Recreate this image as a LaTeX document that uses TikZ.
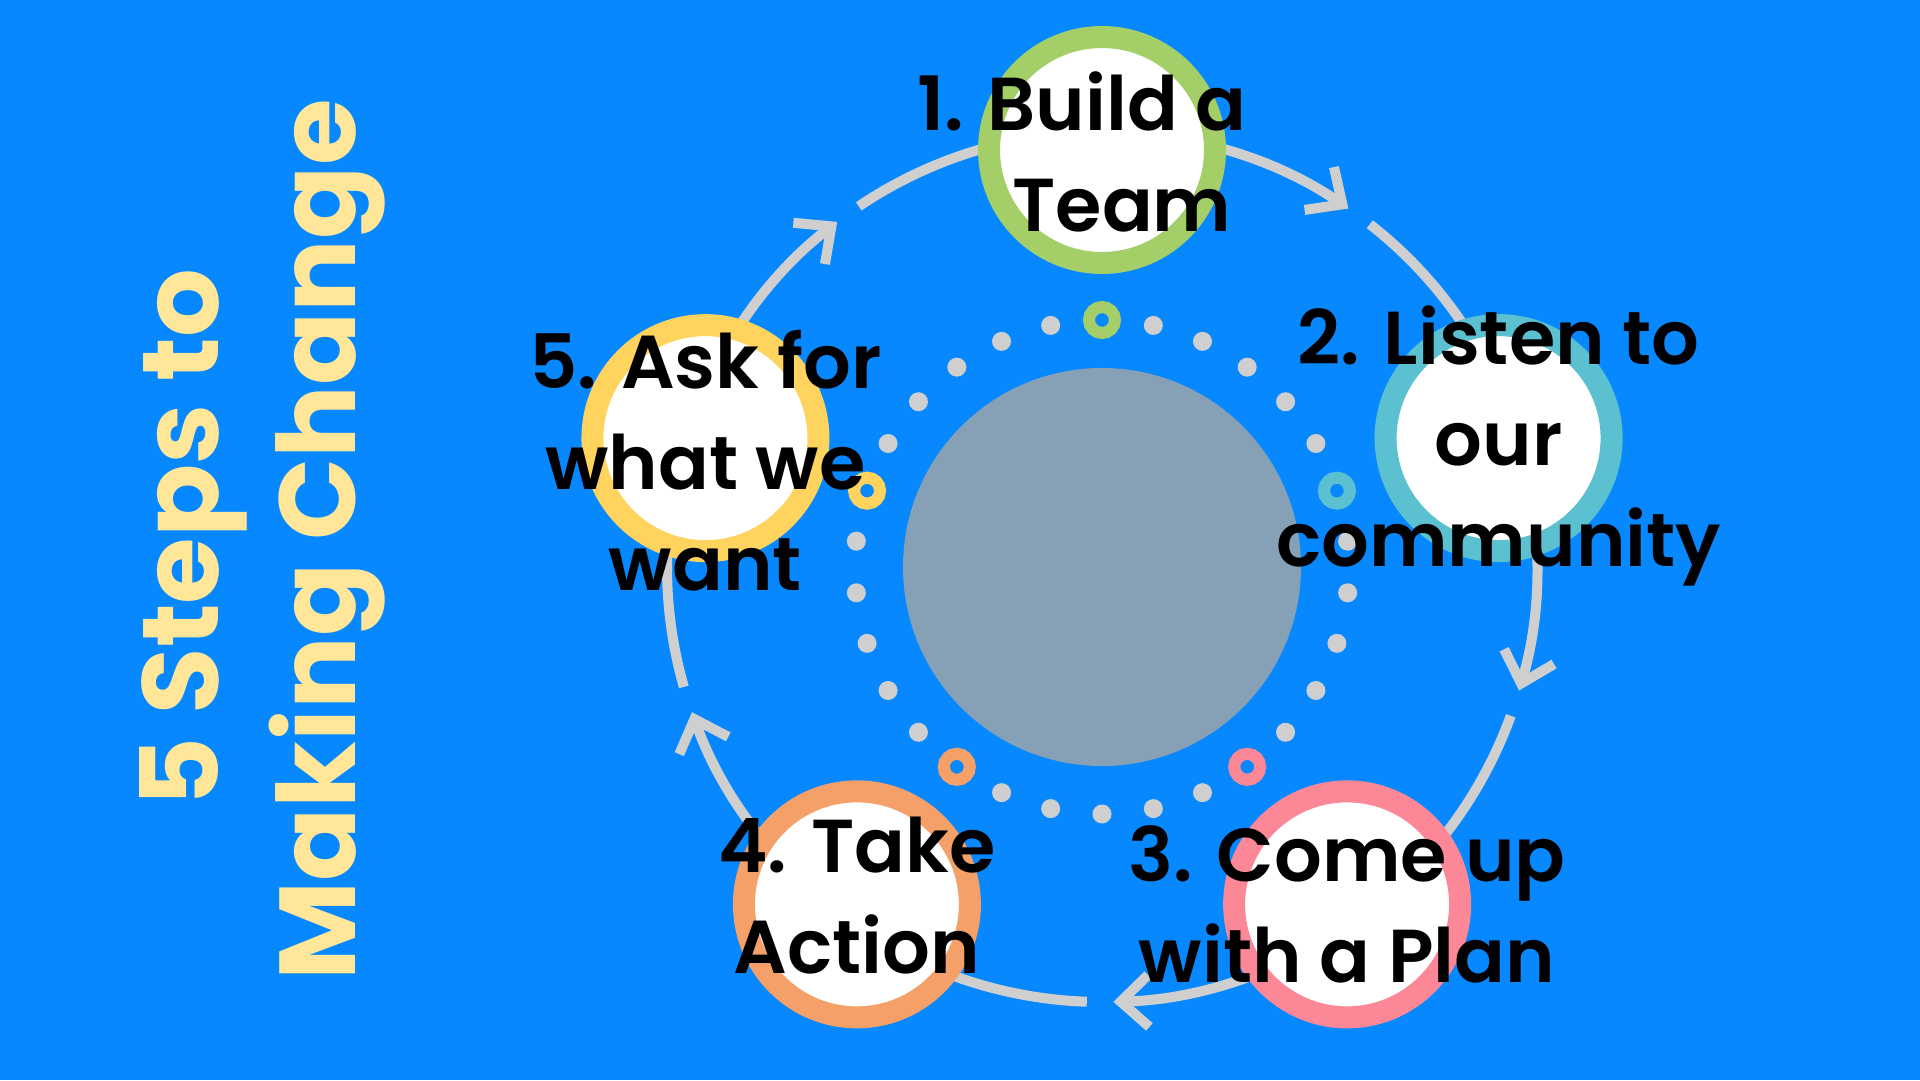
\documentclass[tikz,border=0pt]{standalone}
\usepackage{fontspec}
\setmainfont{Poppins}[UprightFont=* SemiBold, BoldFont=* Bold]
\usetikzlibrary{arrows.meta,calc}
\definecolor{bg}{HTML}{0788FE}
\definecolor{hubgray}{HTML}{86A0B5}
\definecolor{arcgray}{HTML}{CFCFCF}
\definecolor{cgreen}{HTML}{A3CE68}
\definecolor{cteal}{HTML}{5BC0CF}
\definecolor{cpink}{HTML}{FC8797}
\definecolor{corange}{HTML}{F4A068}
\definecolor{cyellow}{HTML}{FFD45E}
\definecolor{titleyellow}{HTML}{FFE699}
\begin{document}
\begin{tikzpicture}[x=1pt,y=1pt,
  stepcircle/.style={circle, minimum size=226pt, inner sep=0pt, line width=22pt, fill=white},
  steptext/.style={align=center, font=\fontsize{75}{101}\selectfont, text=black, inner sep=0pt},
  flow/.style={draw=arcgray, line width=10pt},
  flowtip/.style={flow, -{Straight Barb[length=28pt,width=52pt]}},
  dotmark/.style={circle, fill=arcgray, minimum size=19pt, inner sep=0pt},
  ringmark/.style={circle, line width=12pt, minimum size=26pt, inner sep=0pt},
  titletext/.style={text=titleyellow, font=\bfseries\fontsize{108}{137}\selectfont, rotate=90, anchor=base, inner sep=0pt}
]
\useasboundingbox (0,0) rectangle (1920,1080);
\fill[bg] (0,0) rectangle (1920,1080);

% title
\node[titletext] (title1) at (218,542) {5 Steps to};
\node[titletext] (title2) at (355,540) {Making Change};

% hub
\node[circle, fill=hubgray, minimum size=398pt, inner sep=0pt] (hub) at (1102,513) {};

% dotted ring
\foreach \k in {1,...,29} {
  \pgfmathtruncatemacro\r{mod(\k,6)}
  \ifnum\r=0\relax\else
    \node[dotmark] (d\k) at ($(hub.center)+(90-12*\k:247)$) {};
  \fi
}
\node[ringmark, draw=cgreen] (r1) at ($(hub.center)+(90:247)$) {};
\node[ringmark, draw=cteal] (r2) at ($(hub.center)+(18:247)$) {};
\node[ringmark, draw=cpink] (r3) at ($(hub.center)+(-54:247)$) {};
\node[ringmark, draw=corange] (r4) at ($(hub.center)+(-126:247)$) {};
\node[ringmark, draw=cyellow] (r5) at ($(hub.center)+(162:247)$) {};

% flow arcs
\foreach \a/\b in {90/18, 18/-54, -54/-126, -126/-198, -198/-270} {
  \pgfmathsetmacro\tipang{(\a+\b)/2+1.5}
  \pgfmathsetmacro\resang{(\a+\b)/2-2}
  \draw[flowtip] ([shift={(\a:435)}]hub.center) arc[start angle=\a, end angle=\tipang, radius=435];
  \draw[flow] ([shift={(\resang:435)}]hub.center) arc[start angle=\resang, end angle=\b, radius=435];
}

% step circles
\node[stepcircle, draw=cgreen] (s1) at ($(hub.center)+(90:417)$) {};
\node[stepcircle, draw=cteal] (s2) at ($(hub.center)+(18:417)$) {};
\node[stepcircle, draw=cpink] (s3) at ($(hub.center)+(-54:417)$) {};
\node[stepcircle, draw=corange] (s4) at ($(hub.center)+(-126:417)$) {};
\node[stepcircle, draw=cyellow] (s5) at ($(hub.center)+(162:417)$) {};

% step texts
\node[steptext, yshift=-2pt] (t1) at (s1) {1. Build a\hspace*{40pt}\\\hspace*{40pt}Team};
\node[steptext, yshift=-8pt] (t2) at (s2) {2. Listen to\\our\\community};
\node[steptext] (t3) at (s3) {3. Come up\\with a Plan};
\node[steptext, yshift=9pt] (t4) at (s4) {4. Take\\Action};
\node[steptext, yshift=-22pt] (t5) at (s5) {5. Ask for\\what we\\want};
\end{tikzpicture}
\end{document}
